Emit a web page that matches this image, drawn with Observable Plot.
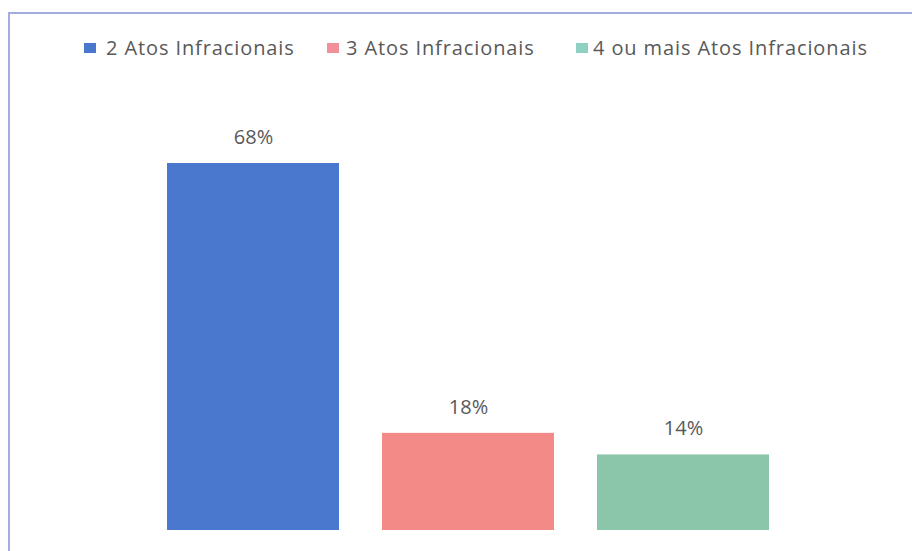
<!DOCTYPE html>
<html>
<head>
<meta charset="utf-8">
<script src="https://cdn.jsdelivr.net/npm/d3@7"></script>
<script src="https://cdn.jsdelivr.net/npm/@observablehq/plot@0.6"></script>
<style>
  body { margin: 0; background: #fff; }
  #wrap { position: relative; width: 912px; height: 551px; overflow: hidden; background: #fff; font-family: "Open Sans", sans-serif; }
  #frame { position: absolute; left: 8px; top: 12px; width: 920px; height: 560px; border-top: 2px solid #a3addf; border-left: 2px solid #a3addf; box-sizing: border-box; }
  #legend { position: absolute; left: 0; top: 0; width: 912px; height: 80px; }
  .item { position: absolute; top: 34px; height: 28px; line-height: 28px; font-size: 20px; letter-spacing: 0.9px; color: #595959; white-space: nowrap; }
  .sw { position: absolute; top: 9px; width: 12px; height: 10px; }
  #chart { position: absolute; left: 0; top: 80px; }
</style>
</head>
<body>
<div id="wrap">
  <div id="frame"></div>
  <div id="legend"></div>
  <div id="chart"></div>
</div>
<script>
const categories = ["2 Atos Infracionais", "3 Atos Infracionais", "4 ou mais Atos Infracionais"];
const values = [68, 18, 14];
const labels = ["68%", "18%", "14%"];
const colors = ["#4a78cf", "#f48a88", "#8cc6aa"];
const legendColors = ["#4a78cf", "#f2909a", "#8fd0c4"];
const legendSwatchX = [84, 327, 576];
const legendTextX = [106, 346, 593];

const data = categories.map((c, i) => ({category: c, value: values[i], label: labels[i]}));

const legend = document.getElementById("legend");
categories.forEach((c, i) => {
  const s = document.createElement("div");
  s.className = "sw";
  s.style.left = legendSwatchX[i] + "px";
  s.style.top = "43px";
  s.style.background = legendColors[i];
  legend.appendChild(s);
  const d = document.createElement("div");
  d.className = "item";
  d.style.left = legendTextX[i] + "px";
  d.textContent = c;
  legend.appendChild(d);
});

const plot = Plot.plot({
  width: 912,
  height: 471,
  marginLeft: 124,
  marginRight: 100,
  marginTop: 83,
  marginBottom: 21,
  x: {domain: categories, padding: 0.2, axis: null},
  y: {domain: [0, 68], axis: null},
  color: {domain: categories, range: colors},
  style: {fontFamily: "Open Sans, sans-serif", background: "transparent", overflow: "visible"},
  marks: [
    Plot.barY(data, {x: "category", y: "value", fill: "category"}),
    Plot.text(data, {x: "category", y: "value", text: "label", dy: -26, fontSize: 20, fill: "#595959", letterSpacing: "1px"})
  ]
});
document.getElementById("chart").appendChild(plot);
</script>
</body>
</html>
